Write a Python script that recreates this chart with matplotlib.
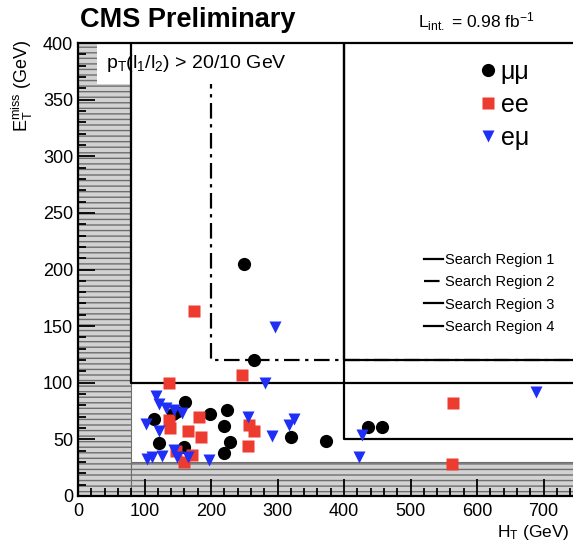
import matplotlib
matplotlib.use("Agg")
import matplotlib.pyplot as plt
from matplotlib.patches import Rectangle
from matplotlib.lines import Line2D
from matplotlib.ticker import MultipleLocator, FixedLocator

plt.rcParams['font.family'] = ['Liberation Sans', 'DejaVu Sans']
plt.rcParams['mathtext.fontset'] = 'custom'
plt.rcParams['mathtext.rm'] = 'Liberation Sans'
plt.rcParams['mathtext.it'] = 'Liberation Sans'
plt.rcParams['hatch.linewidth'] = 1.0

# Candidate events: (H_T, E_T^miss) in GeV
mm_ht = [250, 265, 161, 143, 147, 114, 199, 122, 160, 224, 220, 228, 220, 320, 373, 436, 457]
mm_met = [205, 120, 83, 72, 74, 68, 72, 47, 43, 76, 62, 48, 38, 52, 49, 61, 61]

ee_ht = [175, 247, 137, 137, 138, 182, 166, 185, 147, 160, 172, 257, 265, 255, 564, 562]
ee_met = [163, 107, 100, 67, 60, 70, 57, 52, 40, 30, 36, 63, 57, 44, 82, 28]

em_ht = [296, 281, 255, 291, 325, 317, 197, 117, 122, 133, 145, 156, 102, 122,
         104, 111, 126, 144, 149, 166, 427, 423, 689]
em_met = [149, 100, 70, 53, 68, 63, 32, 88, 81, 78, 76, 73, 64, 57,
          33, 34, 35, 41, 34, 34, 54, 34, 92]

# Search region boundaries: (H_T min, E_T^miss min)
region_names = ["Search Region 1", "Search Region 2", "Search Region 3", "Search Region 4"]
region_ht = [80, 200, 400, 400]
region_met = [100, 120, 50, 120]

# Preselection cuts (hatched, excluded)
ht_cut = 80
met_cut = 30

# Labelled H_T ticks
ht_ticks = [0, 100, 200, 300, 400, 500, 600, 700]

x_max, y_max = 800, 400

fig = plt.figure(figsize=(5.73, 5.44), dpi=100)
ax = fig.add_axes([78 / 573, 48 / 544, 532 / 573, 453 / 544])
ax.set_xlim(0, x_max)
ax.set_ylim(0, y_max)

# Excluded regions
hatch_kw = dict(facecolor='#d2d2d2', edgecolor='#6e6e6e', hatch='---', lw=0.8, zorder=1)
ax.add_patch(Rectangle((0, 0), ht_cut, y_max, **hatch_kw))
ax.add_patch(Rectangle((ht_cut, 0), x_max - ht_cut, met_cut, **hatch_kw))

# Region boundaries
styles = [dict(ls='-'), dict(ls=(0, (7, 2.5, 1.5, 2.5))), dict(ls='-'), dict(ls='-')]
zords = [5, 3, 5, 5]
handles = []
for name, hx, my, st, z in zip(region_names, region_ht, region_met, styles, zords):
    ax.plot([hx, hx, x_max], [y_max, my, my], color='black', lw=1.6, zorder=z, **st)
    handles.append(Line2D([], [], color='black', lw=1.6, **st))

# Label box for the lepton p_T requirement
ax.add_patch(Rectangle((28, 364), 300, 36, facecolor='white', edgecolor='none', zorder=4))
ax.text(42, 382, r'p$_\mathrm{T}$(l$_\mathrm{1}$/l$_\mathrm{2}$) > 20/10 GeV',
        fontsize=14, va='center', ha='left', zorder=6)

# Events
ms = 9.5
h_mm, = ax.plot(mm_ht, mm_met, 'o', color='black', ms=ms, mec='none', zorder=7)
h_ee, = ax.plot(ee_ht, ee_met, 's', color='#ee3b2f', ms=ms - 0.5, mec='none', zorder=7)
h_em, = ax.plot(em_ht, em_met, 'v', color='#1f2ff5', ms=ms - 0.5, mec='none', zorder=7)

leg1 = ax.legend([h_mm, h_ee, h_em], ['\u03bc\u03bc', 'ee', 'e\u03bc'],
                 loc='upper left', bbox_to_anchor=(0.738, 0.984), frameon=False,
                 fontsize=18, handlelength=0.6, handletextpad=0.2, labelspacing=0.35,
                 borderaxespad=0)
ax.add_artist(leg1)
ax.legend(handles, region_names, loc='upper left', bbox_to_anchor=(0.64, 0.55),
          frameon=False, fontsize=10.5, handlelength=1.3, handletextpad=0.15,
          labelspacing=0.58, borderaxespad=0)

# Axes styling
ax.xaxis.set_major_locator(FixedLocator(ht_ticks))
ax.xaxis.set_minor_locator(MultipleLocator(20))
ax.yaxis.set_major_locator(MultipleLocator(50))
ax.yaxis.set_minor_locator(MultipleLocator(10))
ax.tick_params(which='both', direction='in', labelsize=13, width=1.3, zorder=8)
ax.tick_params(which='major', length=12)
ax.tick_params(which='minor', length=6)
ax.tick_params(axis='x', pad=5)
for s in ax.spines.values():
    s.set_linewidth(1.6)
    s.set_zorder(9)

fig.text(80 / 573, 1 - 20 / 544, 'CMS Preliminary', fontsize=19.5, fontweight='bold',
         ha='left', va='center')
fig.text(418 / 573, 1 - 22 / 544, r'L$_\mathrm{int.}$ = 0.98 fb$^\mathrm{-1}$', fontsize=12.5,
         ha='left', va='center')
fig.text(22 / 573, 1 - 40 / 544, r'E$_\mathrm{T}^\mathrm{miss}$ (GeV)', fontsize=13,
         rotation=90, ha='center', va='top')
fig.text(570 / 573, 1 - 533 / 544, r'H$_\mathrm{T}$ (GeV)', fontsize=12.5,
         ha='right', va='center')

fig.savefig('out.png', dpi=100)
